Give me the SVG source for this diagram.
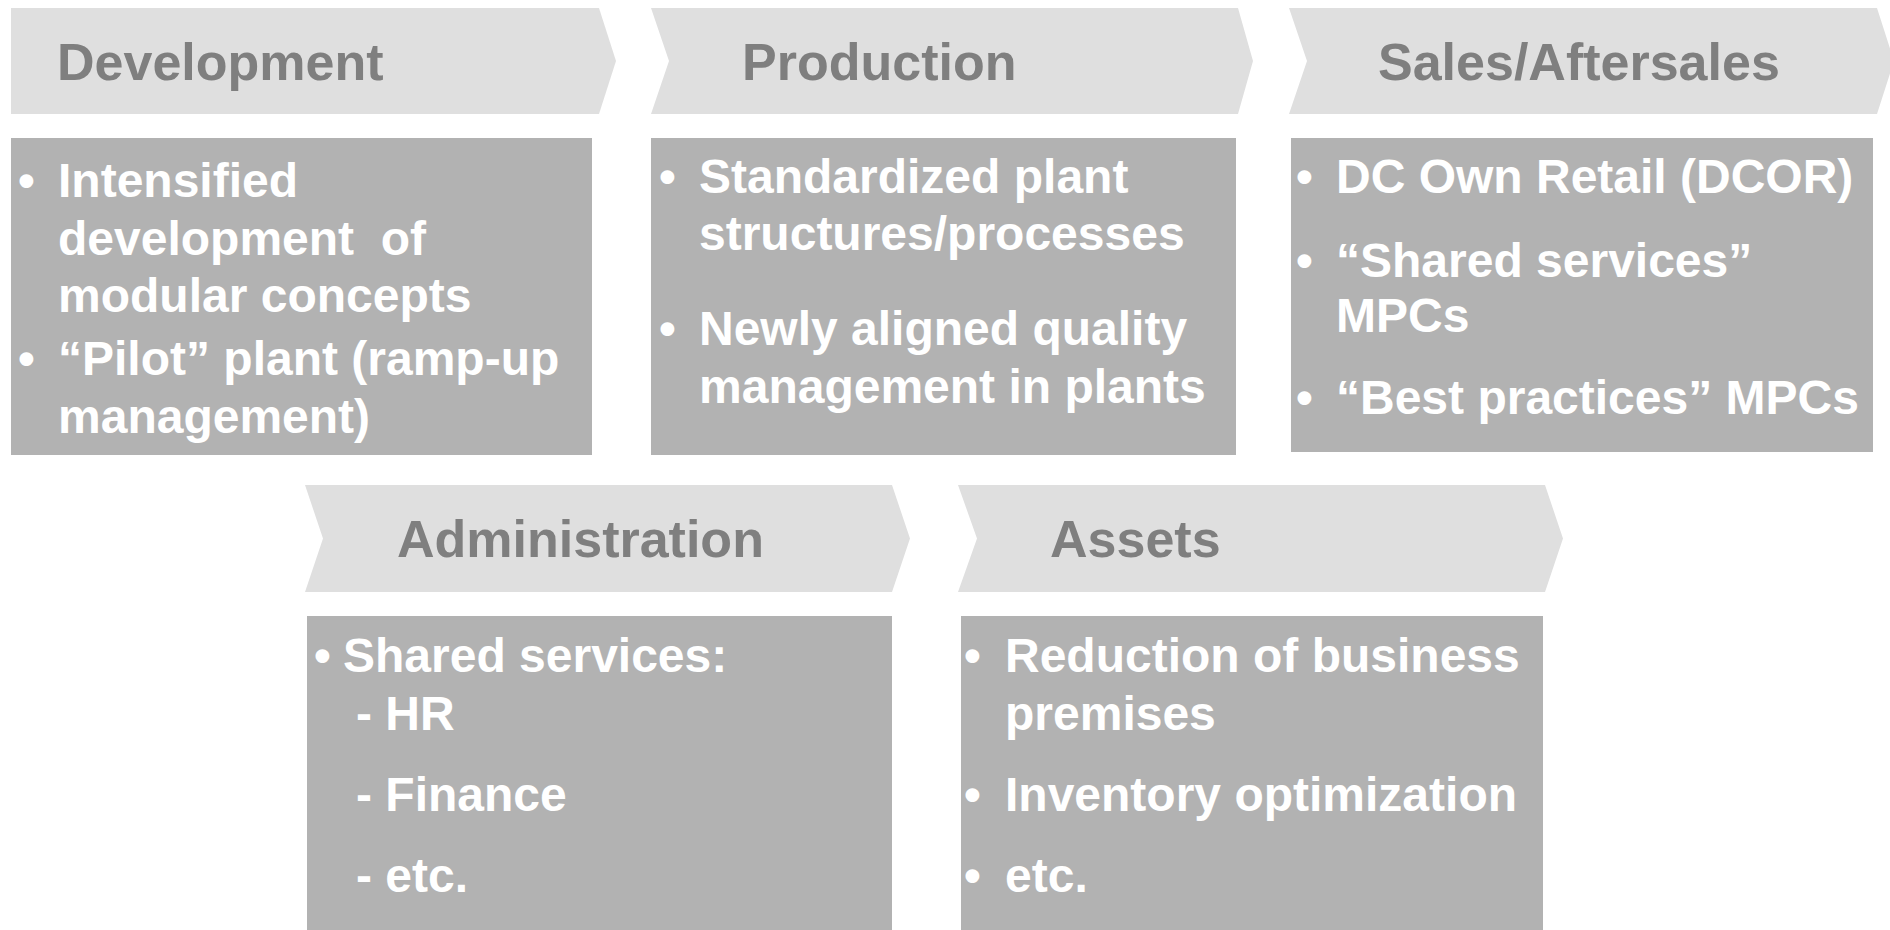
<svg xmlns="http://www.w3.org/2000/svg" width="1890" height="930" viewBox="0 0 1890 930">
  <style>
    .chev { fill: #dfdfdf; }
    .box { fill: #b2b2b2; }
    .head { font-family: "Liberation Sans", Arial, sans-serif; font-weight: bold; font-size: 52px; fill: #7f7f7f; }
    .body { font-family: "Liberation Sans", Arial, sans-serif; font-weight: bold; font-size: 48px; fill: #ffffff; }
  </style>
  <rect width="1890" height="930" fill="#ffffff"/>

  <g id="development">
    <path class="chev" d="M11,8 H599 L616,61 L599,114 H11 Z"/>
    <text class="head" x="57" y="80">Development</text>
    <rect class="box" x="11" y="138" width="581" height="317"/>
    <text class="body" x="18" y="197">•</text>
    <text class="body" x="58" y="197">Intensified</text>
    <text class="body" x="58" y="255" xml:space="preserve">development  of</text>
    <text class="body" x="58" y="312">modular concepts</text>
    <text class="body" x="18" y="375">•</text>
    <text class="body" x="58" y="375">“Pilot” plant (ramp-up</text>
    <text class="body" x="58" y="433">management)</text>
  </g>

  <g id="production">
    <path class="chev" d="M651,8 H1238 L1253,61 L1238,114 H651 L669,61 Z"/>
    <text class="head" x="742" y="80">Production</text>
    <rect class="box" x="651" y="138" width="585" height="317"/>
    <text class="body" x="659" y="193">•</text>
    <text class="body" x="699" y="193">Standardized plant</text>
    <text class="body" x="699" y="250">structures/processes</text>
    <text class="body" x="659" y="345">•</text>
    <text class="body" x="699" y="345">Newly aligned quality</text>
    <text class="body" x="699" y="403">management in plants</text>
  </g>

  <g id="sales-aftersales">
    <path class="chev" d="M1289,8 H1877 L1894,61 L1877,114 H1289 L1307,61 Z"/>
    <text class="head" x="1378" y="80">Sales/Aftersales</text>
    <rect class="box" x="1291" y="138" width="582" height="314"/>
    <text class="body" x="1296" y="193">•</text>
    <text class="body" x="1336" y="193">DC Own Retail (DCOR)</text>
    <text class="body" x="1296" y="277">•</text>
    <text class="body" x="1336" y="277">“Shared services”</text>
    <text class="body" x="1336" y="332">MPCs</text>
    <text class="body" x="1296" y="414">•</text>
    <text class="body" x="1336" y="414">“Best practices” MPCs</text>
  </g>

  <g id="administration">
    <path class="chev" d="M305,485 H892 L910,538.5 L892,592 H305 L323,538.5 Z"/>
    <text class="head" x="397" y="557">Administration</text>
    <rect class="box" x="307" y="616" width="585" height="314"/>
    <text class="body" x="314" y="672">•</text>
    <text class="body" x="343" y="672">Shared services:</text>
    <text class="body" x="356" y="730">- HR</text>
    <text class="body" x="356" y="811">- Finance</text>
    <text class="body" x="356" y="892">- etc.</text>
  </g>

  <g id="assets">
    <path class="chev" d="M958,485 H1545 L1563,538.5 L1545,592 H958 L977,538.5 Z"/>
    <text class="head" x="1050" y="557">Assets</text>
    <rect class="box" x="961" y="616" width="582" height="314"/>
    <text class="body" x="964" y="672">•</text>
    <text class="body" x="1005" y="672">Reduction of business</text>
    <text class="body" x="1005" y="730">premises</text>
    <text class="body" x="964" y="811">•</text>
    <text class="body" x="1005" y="811">Inventory optimization</text>
    <text class="body" x="964" y="892">•</text>
    <text class="body" x="1005" y="892">etc.</text>
  </g>

  <g id="connectors"/>
</svg>
